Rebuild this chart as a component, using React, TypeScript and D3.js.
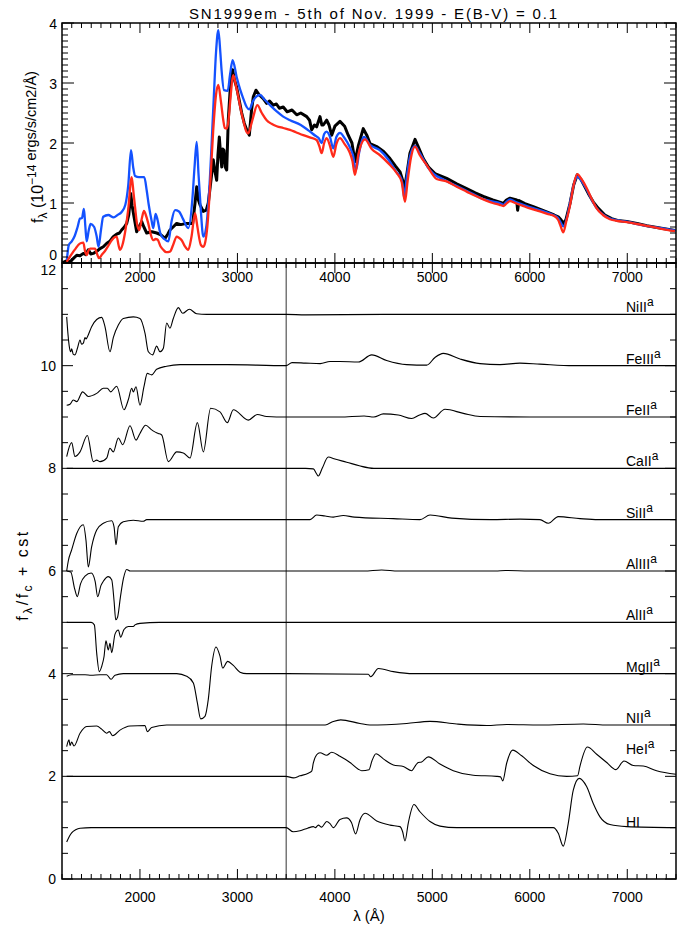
import React from "react";
import * as d3 from "d3";

type P = [number, number];

// ---------- layout ----------
const W = 686, H = 927;
const X0 = 62, X1 = 676;
const TOP_Y0 = 23, TOP_Y1 = 263;
const BOT_Y0 = 263, BOT_Y1 = 879;

// ---------- axes data ----------
const lambdaDomain: P = [1200, 7500];
const xMajorTicks = [2000, 3000, 4000, 5000, 6000, 7000];
const topYTicks = [0, 1, 2, 3, 4];
const botYTicks = [0, 2, 4, 6, 8, 10, 12];
const splitLambda = 3500;

const titleText = "SN1999em - 5th of Nov. 1999 - E(B-V) = 0.1";

// ---------- top panel: observed + two models ----------
const observed: P[] = [[1200,0.0],[1240,0.03],[1282,0.02],[1320,0.08],[1351,0.13],[1385,0.12],[1419,0.16],[1445,0.14],[1470,0.22],[1495,0.15],[1521,0.16],[1560,0.2],[1590,0.24],[1624,0.27],[1660,0.33],[1690,0.36],[1726,0.44],[1760,0.48],[1790,0.5],[1812,0.55],[1840,0.6],[1864,0.66],[1885,0.8],[1905,1.16],[1920,0.95],[1939,0.77],[1966,0.52],[1990,0.6],[2018,0.69],[2040,0.6],[2069,0.5],[2120,0.52],[2172,0.5],[2215,0.47],[2257,0.41],[2285,0.48],[2308,0.55],[2340,0.6],[2377,0.66],[2420,0.64],[2479,0.66],[2541,0.66],[2565,1.0],[2582,1.27],[2600,1.05],[2616,0.97],[2650,0.86],[2680,0.88],[2701,1.0],[2730,1.4],[2752,1.72],[2770,1.52],[2787,1.38],[2800,1.8],[2814,2.1],[2830,1.75],[2839,1.6],[2850,1.9],[2862,1.88],[2875,1.6],[2890,1.55],[2906,2.38],[2930,3.0],[2951,3.22],[2970,3.05],[2992,2.93],[3020,2.7],[3044,2.5],[3070,2.33],[3095,2.22],[3122,2.13],[3145,2.55],[3163,2.77],[3190,2.88],[3225,2.8],[3265,2.74],[3300,2.66],[3330,2.7],[3368,2.63],[3400,2.65],[3430,2.58],[3470,2.6],[3510,2.52],[3560,2.55],[3608,2.47],[3650,2.5],[3711,2.44],[3740,2.38],[3762,2.22],[3790,2.3],[3813,2.27],[3847,2.44],[3866,2.3],[3881,2.3],[3916,2.38],[3940,2.3],[3967,2.13],[4000,2.28],[4052,2.36],[4100,2.28],[4137,2.13],[4175,2.0],[4206,1.69],[4240,1.95],[4291,2.24],[4330,2.12],[4360,1.99],[4429,1.94],[4500,1.86],[4565,1.74],[4620,1.62],[4668,1.52],[4695,1.38],[4712,1.22],[4740,1.5],[4770,1.83],[4822,2.06],[4860,1.92],[4907,1.74],[4960,1.6],[5027,1.49],[5147,1.41],[5250,1.32],[5352,1.24],[5440,1.17],[5523,1.11],[5620,1.05],[5700,1.01],[5728,0.99],[5760,1.05],[5797,1.08],[5865,1.05],[5875,0.88],[5889,1.04],[5950,0.99],[6036,0.94],[6173,0.85],[6250,0.8],[6292,0.77],[6320,0.72],[6343,0.66],[6370,0.72],[6412,0.99],[6450,1.3],[6487,1.47],[6530,1.38],[6600,1.16],[6650,1.02],[6703,0.91],[6770,0.8],[6840,0.74],[6900,0.71],[6994,0.69],[7100,0.66],[7200,0.62],[7350,0.58],[7490,0.54]];

const modelBlue: P[] = [[1250,0.05],[1270,0.3],[1300,0.36],[1330,0.45],[1360,0.6],[1385,0.74],[1405,0.75],[1425,0.9],[1440,0.6],[1453,0.36],[1475,0.55],[1494,0.65],[1530,0.6],[1555,0.45],[1575,0.27],[1600,0.55],[1623,0.77],[1675,0.8],[1730,0.76],[1770,0.8],[1812,0.85],[1850,0.97],[1880,1.3],[1908,1.88],[1930,1.6],[1950,1.45],[1990,1.43],[2044,1.43],[2070,1.2],[2090,0.97],[2120,0.7],[2137,0.58],[2160,0.82],[2180,0.72],[2210,0.49],[2250,0.4],[2291,0.36],[2325,0.7],[2360,0.88],[2400,0.86],[2440,0.74],[2496,0.58],[2537,1.05],[2560,1.6],[2582,2.02],[2600,1.5],[2622,0.94],[2650,0.44],[2680,0.6],[2710,1.2],[2755,2.67],[2780,3.5],[2804,3.88],[2825,3.5],[2838,3.2],[2862,2.88],[2900,2.87],[2925,3.15],[2951,3.38],[2992,3.1],[3030,2.88],[3060,2.74],[3095,2.6],[3122,2.56],[3160,2.7],[3200,2.78],[3232,2.8],[3280,2.72],[3335,2.63],[3400,2.53],[3470,2.44],[3540,2.38],[3650,2.3],[3745,2.19],[3800,2.12],[3835,2.08],[3864,2.0],[3890,2.15],[3915,2.19],[3950,2.1],[3983,1.91],[4015,2.1],[4052,2.17],[4100,2.08],[4150,1.94],[4185,1.8],[4217,1.55],[4250,1.85],[4299,2.1],[4360,1.97],[4460,1.88],[4550,1.72],[4630,1.52],[4680,1.41],[4700,1.25],[4712,1.08],[4735,1.4],[4770,1.77],[4822,1.95],[4860,1.86],[4910,1.72],[4960,1.58],[5010,1.49],[5130,1.38],[5230,1.3],[5330,1.22],[5420,1.15],[5500,1.08],[5600,1.03],[5690,1.0],[5728,0.97],[5760,1.02],[5797,1.06],[5850,1.02],[5915,0.98],[6000,0.93],[6100,0.88],[6180,0.84],[6240,0.8],[6290,0.75],[6315,0.68],[6344,0.61],[6380,0.75],[6412,1.0],[6450,1.3],[6488,1.44],[6530,1.37],[6585,1.22],[6640,1.04],[6688,0.91],[6750,0.81],[6825,0.74],[6900,0.71],[6995,0.69],[7100,0.65],[7200,0.62],[7350,0.58],[7500,0.54]];

const modelRed: P[] = [[1248,0.02],[1280,0.1],[1316,0.19],[1340,0.24],[1367,0.3],[1390,0.33],[1419,0.34],[1436,0.2],[1453,0.13],[1470,0.2],[1487,0.24],[1539,0.24],[1560,0.15],[1580,0.08],[1610,0.14],[1641,0.2],[1680,0.3],[1710,0.38],[1740,0.43],[1761,0.44],[1780,0.3],[1795,0.22],[1820,0.3],[1846,0.5],[1880,0.9],[1915,1.43],[1935,1.15],[1949,0.94],[1970,0.65],[1993,0.55],[2020,0.75],[2041,0.87],[2060,0.8],[2085,0.66],[2110,0.48],[2137,0.38],[2160,0.4],[2180,0.39],[2210,0.28],[2239,0.22],[2270,0.18],[2308,0.19],[2340,0.3],[2377,0.44],[2400,0.42],[2428,0.38],[2460,0.28],[2496,0.22],[2530,0.45],[2565,0.83],[2585,0.65],[2599,0.5],[2625,0.3],[2650,0.27],[2670,0.35],[2691,0.6],[2720,1.3],[2752,2.22],[2780,2.8],[2804,2.97],[2830,2.7],[2855,2.38],[2870,2.25],[2890,2.24],[2910,2.4],[2924,2.66],[2958,3.13],[2985,2.95],[3009,2.77],[3035,2.55],[3060,2.38],[3085,2.22],[3111,2.16],[3140,2.3],[3163,2.44],[3204,2.63],[3250,2.5],[3300,2.38],[3350,2.32],[3403,2.28],[3470,2.25],[3539,2.22],[3600,2.18],[3676,2.13],[3750,2.09],[3813,2.05],[3840,1.95],[3864,1.83],[3890,2.0],[3916,2.08],[3950,1.95],[3984,1.77],[4015,1.98],[4052,2.08],[4100,1.98],[4150,1.85],[4180,1.7],[4206,1.47],[4240,1.8],[4309,2.06],[4378,1.9],[4460,1.8],[4550,1.66],[4634,1.5],[4685,1.35],[4719,1.02],[4745,1.35],[4780,1.75],[4822,1.94],[4870,1.8],[4942,1.63],[5044,1.4],[5147,1.36],[5250,1.27],[5352,1.19],[5440,1.12],[5523,1.06],[5620,1.0],[5690,0.97],[5728,0.95],[5760,0.99],[5797,1.03],[5850,1.0],[5917,0.96],[6000,0.91],[6104,0.86],[6180,0.82],[6241,0.79],[6290,0.72],[6315,0.62],[6343,0.51],[6375,0.7],[6412,0.96],[6450,1.3],[6487,1.48],[6530,1.4],[6583,1.25],[6640,1.05],[6686,0.91],[6750,0.8],[6822,0.73],[6900,0.7],[6994,0.68],[7100,0.65],[7199,0.62],[7350,0.57],[7490,0.53]];

// ---------- bottom panel: individual ion contributions (f/fc + cst) ----------
const ionNiII: P[] = [[1248,10.95],[1262,10.6],[1275,10.37],[1289,10.27],[1299,10.33],[1316,10.22],[1333,10.21],[1360,10.35],[1385,10.5],[1400,10.42],[1419,10.44],[1436,10.55],[1446,10.52],[1460,10.56],[1504,10.76],[1556,10.9],[1607,10.94],[1641,10.76],[1692,10.27],[1727,10.55],[1778,10.79],[1829,10.92],[1932,10.95],[2000,10.92],[2052,10.63],[2086,10.27],[2130,10.21],[2171,10.38],[2205,10.27],[2240,10.34],[2274,10.83],[2308,10.73],[2342,10.92],[2394,11.13],[2438,11.02],[2507,11.1],[2582,11.01],[2684,11.0],[3500,11.0],[3700,10.99],[4500,11.0],[7500,11.0]];
const ionFeIII: P[] = [[1248,9.23],[1282,9.25],[1316,9.33],[1351,9.3],[1412,9.49],[1470,9.4],[1556,9.46],[1624,9.56],[1665,9.56],[1699,9.49],[1761,9.6],[1836,9.14],[1881,9.34],[1915,9.56],[1932,9.49],[1959,9.59],[2000,9.23],[2041,9.59],[2075,9.85],[2120,9.82],[2171,9.93],[2274,9.99],[2411,10.02],[2900,10.02],[3500,10.0],[3560,10.06],[3700,10.05],[3850,10.04],[3950,10.08],[4052,10.08],[4240,10.07],[4378,10.21],[4531,10.1],[4737,10.02],[4942,10.01],[5027,10.16],[5112,10.24],[5284,10.13],[5489,10.04],[5694,10.02],[5899,10.05],[6104,10.03],[6446,10.0],[7500,10.0]];
const ionFeII: P[] = [[1248,8.23],[1299,8.5],[1333,8.23],[1385,8.32],[1460,8.64],[1521,8.13],[1556,8.16],[1590,8.13],[1658,8.2],[1692,8.39],[1727,8.32],[1778,8.59],[1823,8.46],[1898,8.83],[1959,8.55],[2000,8.68],[2058,8.84],[2120,8.75],[2144,8.72],[2188,8.68],[2223,8.65],[2291,8.13],[2377,8.32],[2445,8.3],[2513,8.2],[2589,8.89],[2650,8.32],[2725,9.17],[2821,9.1],[2896,8.89],[2958,9.14],[3112,8.94],[3204,9.05],[3300,9.01],[3500,9.0],[3800,9.0],[4052,9.0],[4300,9.02],[4400,9.0],[4497,9.06],[4650,9.04],[4788,8.97],[4870,9.04],[4925,9.07],[5010,8.98],[5130,9.15],[5318,9.07],[5489,9.01],[6000,9.0],[7500,9.0]];
const ionCaII: P[] = [[1248,8.0],[3500,8.0],[3700,8.0],[3779,7.99],[3810,7.9],[3830,7.85],[3870,8.0],[3932,8.22],[4000,8.18],[4121,8.12],[4250,8.05],[4400,8.0],[7500,8.0]];
const ionSiII: P[] = [[1248,6.0],[1265,6.2],[1299,6.41],[1351,6.73],[1419,6.9],[1446,6.6],[1470,6.08],[1504,6.47],[1556,6.8],[1624,6.93],[1710,6.98],[1734,6.86],[1754,6.51],[1778,6.86],[1829,6.96],[1932,6.99],[2034,6.97],[2069,7.0],[3500,7.0],[3745,7.0],[3813,7.09],[3900,7.07],[3984,7.05],[4086,7.08],[4200,7.05],[4600,7.02],[4873,7.0],[4976,7.09],[5200,7.03],[5600,7.0],[5900,7.01],[6104,7.0],[6190,6.93],[6292,7.06],[6515,7.02],[6700,7.0],[7500,7.0]];
const ionAlIII: P[] = [[1248,6.0],[1290,5.98],[1330,5.65],[1357,5.5],[1390,5.75],[1436,5.9],[1500,5.96],[1540,5.8],[1566,5.5],[1600,5.72],[1624,5.8],[1675,5.89],[1710,5.83],[1735,5.4],[1751,5.05],[1770,5.1],[1800,5.5],[1830,5.85],[1864,6.03],[1900,6.0],[3500,6.0],[4300,6.0],[4480,6.02],[4650,6.0],[5650,6.0],[5750,6.01],[6000,6.0],[7500,6.0]];
const ionAlII: P[] = [[1248,5.0],[1500,5.0],[1532,4.95],[1556,4.4],[1583,4.04],[1607,4.14],[1631,4.33],[1651,4.64],[1675,4.46],[1692,4.59],[1710,4.41],[1744,4.77],[1778,4.85],[1802,4.71],[1836,4.86],[1881,4.92],[1932,4.92],[1949,4.95],[2000,4.98],[2200,5.0],[7500,5.0]];
const ionMgII: P[] = [[1248,3.95],[1299,3.98],[1436,3.98],[1500,3.97],[1590,3.98],[1658,3.98],[1703,3.89],[1744,3.97],[1829,4.0],[2377,4.0],[2479,3.95],[2548,3.82],[2589,3.43],[2623,3.12],[2667,3.17],[2701,3.5],[2736,4.15],[2780,4.52],[2821,4.34],[2849,4.11],[2900,4.24],[2958,4.16],[3026,4.03],[3095,4.0],[3500,4.0],[4343,3.99],[4367,3.94],[4446,4.1],[4600,4.04],[4805,4.0],[7500,4.0]];
const ionNII: P[] = [[1248,2.58],[1272,2.71],[1282,2.6],[1299,2.67],[1323,2.59],[1385,2.84],[1453,2.97],[1556,2.98],[1607,2.92],[1658,2.84],[1686,2.87],[1720,2.79],[1795,2.9],[1898,2.98],[2052,2.99],[2075,2.87],[2120,2.95],[2274,3.0],[3500,3.0],[3800,3.0],[3900,3.0],[3984,3.07],[4060,3.1],[4257,3.03],[4360,3.0],[4737,3.03],[4976,3.07],[5250,3.02],[5558,2.99],[5763,3.01],[6104,3.0],[6549,3.02],[6800,3.0],[7500,3.0]];
const ionHeI: P[] = [[1248,2.0],[3500,2.0],[3573,1.97],[3642,2.01],[3727,2.06],[3762,2.1],[3779,2.26],[3813,2.42],[3847,2.46],[3916,2.41],[3967,2.47],[4052,2.39],[4155,2.27],[4240,2.14],[4275,2.11],[4350,2.13],[4380,2.3],[4422,2.44],[4497,2.34],[4600,2.22],[4703,2.19],[4788,2.11],[4830,2.22],[4856,2.27],[4890,2.28],[4958,2.38],[5078,2.24],[5215,2.11],[5420,2.02],[5660,2.0],[5700,1.99],[5722,1.91],[5763,2.26],[5825,2.51],[5917,2.4],[6036,2.21],[6207,2.05],[6378,2.0],[6490,2.01],[6515,2.2],[6590,2.57],[6686,2.43],[6789,2.27],[6884,2.13],[6966,2.3],[7062,2.21],[7164,2.2],[7301,2.11],[7500,2.04]];
const ionHI: P[] = [[1248,0.72],[1275,0.83],[1299,0.9],[1340,0.96],[1385,0.99],[1500,1.0],[3500,1.0],[3573,0.92],[3642,0.94],[3720,0.99],[3779,1.02],[3800,1.0],[3830,1.05],[3864,1.01],[3916,1.12],[3950,1.08],[3984,1.0],[4052,1.16],[4120,1.19],[4170,1.1],[4213,0.88],[4257,1.15],[4309,1.28],[4429,1.13],[4565,1.05],[4668,1.02],[4695,0.92],[4719,0.74],[4753,1.09],[4811,1.45],[4873,1.31],[4976,1.12],[5078,1.03],[5250,1.0],[6241,1.0],[6292,0.89],[6343,0.64],[6395,1.09],[6446,1.73],[6507,1.96],[6583,1.8],[6651,1.47],[6720,1.21],[6822,1.06],[6994,1.02],[7500,1.0]];

const ionNames = ["NiII", "FeIII", "FeII", "CaII", "SiII", "AlIII", "AlII", "MgII", "NII", "HeI", "HI"];
const ionSup = ["a", "a", "a", "a", "a", "a", "a", "a", "a", "a", ""];
const ionLabelLevel = [11.04, 10.04, 9.04, 8.04, 7.04, 6.04, 5.04, 4.04, 3.04, 2.43, 1.02];
const ionSeries = [ionNiII, ionFeIII, ionFeII, ionCaII, ionSiII, ionAlIII, ionAlII, ionMgII, ionNII, ionHeI, ionHI];

const FONT = "'Liberation Sans', Arial, sans-serif";

export default function App() {
  const x = d3.scaleLinear().domain(lambdaDomain).range([X0, X1]);
  const yTop = d3.scaleLinear().domain([0, 4]).range([TOP_Y1, TOP_Y0]);
  const yBot = d3.scaleLinear().domain([0, 12]).range([BOT_Y1, BOT_Y0]);

  const lineTop = d3.line<P>().x(d => x(d[0])).y(d => yTop(d[1])).curve(d3.curveMonotoneX);
  const lineTopObs = d3.line<P>().x(d => x(d[0])).y(d => yTop(d[1])).curve(d3.curveLinear);
  const lineBot = d3.line<P>().x(d => x(d[0])).y(d => yBot(d[1])).curve(d3.curveMonotoneX);

  const xMinor = d3.range(lambdaDomain[0], lambdaDomain[1] + 1, 100);
  const topYMinor = d3.range(0, 4.001, 0.1);
  const botYMinor = d3.range(0, 12.001, 0.5);

  const isMajorX = (v: number) => v % 1000 === 0;
  const tickStroke = "#000";
  const sw = 1;

  const xTicks = (yAxis: number, dir: number, key: string) =>
    xMinor.map((v, i) => {
      const len = isMajorX(v) ? 10 : 5;
      return <line key={key + i} x1={x(v)} x2={x(v)} y1={yAxis} y2={yAxis + dir * len} stroke={tickStroke} strokeWidth={sw} />;
    });

  return (
    <svg width={W} height={H} style={{ position: "absolute", left: 0, top: 0, background: "#fff" }} fontFamily={FONT}>
      <rect x={0} y={0} width={W} height={H} fill="#fff" />
      <defs>
        <clipPath id="clipTop"><rect x={X0} y={TOP_Y0} width={X1 - X0} height={TOP_Y1 - TOP_Y0} /></clipPath>
        <clipPath id="clipBot"><rect x={X0} y={BOT_Y0} width={X1 - X0} height={BOT_Y1 - BOT_Y0} /></clipPath>
      </defs>

      {/* title */}
      <text x={(X0 + X1) / 2 + 4} y={19} textAnchor="middle" fontSize={15} fill="#000" textLength={368} lengthAdjust="spacing">{titleText}</text>

      {/* ---------- top panel ---------- */}
      <g clipPath="url(#clipTop)">
        <path d={lineTopObs(observed) || ""} fill="none" stroke="#000" strokeWidth={3} strokeLinejoin="round" />
        <path d={lineTop(modelBlue) || ""} fill="none" stroke="#1452ff" strokeWidth={2.3} strokeLinejoin="round" />
        <path d={lineTop(modelRed) || ""} fill="none" stroke="#ff2a1a" strokeWidth={2.3} strokeLinejoin="round" />
      </g>
      {xTicks(TOP_Y1, -1, "tb")}
      {xTicks(TOP_Y0, 1, "tt")}
      {topYMinor.map((v, i) => {
        const major = Math.abs(v - Math.round(v)) < 1e-6;
        const len = major ? 12 : 6;
        return (
          <g key={"ty" + i}>
            <line x1={X0} x2={X0 + len} y1={yTop(v)} y2={yTop(v)} stroke={tickStroke} strokeWidth={sw} />
            <line x1={X1} x2={X1 - len} y1={yTop(v)} y2={yTop(v)} stroke={tickStroke} strokeWidth={sw} />
          </g>
        );
      })}
      {topYTicks.map(v => (
        <text key={"tyl" + v} x={57} y={v === 0 ? yTop(v) - 3 : yTop(v) + 6} textAnchor="end" fontSize={14}>{v}</text>
      ))}
      {xMajorTicks.map(v => (
        <text key={"txl" + v} x={x(v)} y={282} textAnchor="middle" fontSize={14}>{v}</text>
      ))}
      <rect x={X0} y={TOP_Y0} width={X1 - X0} height={TOP_Y1 - TOP_Y0} fill="none" stroke="#000" strokeWidth={1.5} />
      <text transform={`translate(43,${(TOP_Y0 + TOP_Y1) / 2 + 4}) rotate(-90)`} textAnchor="middle" fontSize={16}>
        f<tspan dy={4} fontSize={12}>λ</tspan><tspan dy={-4}> (10</tspan><tspan dy={-7} fontSize={12}>−14</tspan><tspan fontSize={14.5}> ergs/s/cm2/Å)</tspan>
      </text>

      {/* ---------- bottom panel ---------- */}
      <g clipPath="url(#clipBot)">
        <line x1={x(splitLambda)} x2={x(splitLambda)} y1={BOT_Y0} y2={BOT_Y1} stroke="#333" strokeWidth={1} />
        {ionSeries.map((s, i) => (
          <path key={"ion" + i} d={lineBot(s) || ""} fill="none" stroke="#000" strokeWidth={1.1} strokeLinejoin="round" />
        ))}
      </g>
      {ionNames.map((n, i) => (
        <text key={"il" + i} x={626} y={yBot(ionLabelLevel[i])} fontSize={14} fill="#000">
          {n}
          {ionSup[i] ? <tspan dy={-6} fontSize={12}>{ionSup[i]}</tspan> : null}
        </text>
      ))}
      {xTicks(BOT_Y0, 1, "bt")}
      {xTicks(BOT_Y1, -1, "bb")}
      {botYMinor.map((v, i) => {
        const major = Math.abs(v / 2 - Math.round(v / 2)) < 1e-6;
        const len = major ? 11 : 6;
        return (
          <g key={"by" + i}>
            <line x1={X0} x2={X0 + len} y1={yBot(v)} y2={yBot(v)} stroke={tickStroke} strokeWidth={sw} />
            <line x1={X1} x2={X1 - len} y1={yBot(v)} y2={yBot(v)} stroke={tickStroke} strokeWidth={sw} />
          </g>
        );
      })}
      {botYTicks.map(v => (
        <text key={"byl" + v} x={56} y={v === 12 ? yBot(v) + 12 : yBot(v) + 5} textAnchor="end" fontSize={14}>{v}</text>
      ))}
      {xMajorTicks.map(v => (
        <text key={"bxl" + v} x={x(v)} y={902} textAnchor="middle" fontSize={14}>{v}</text>
      ))}
      <rect x={X0} y={BOT_Y0} width={X1 - X0} height={BOT_Y1 - BOT_Y0} fill="none" stroke="#000" strokeWidth={1.5} />
      <text transform={`translate(28,${(BOT_Y0 + BOT_Y1) / 2 + 4}) rotate(-90)`} textAnchor="middle" fontSize={16} letterSpacing={2.5}>
        f<tspan dy={4} fontSize={12}>λ</tspan><tspan dy={-4}>/f</tspan><tspan dy={4} fontSize={12}>c</tspan><tspan dy={-4}> + cst</tspan>
      </text>
      <text x={(X0 + X1) / 2} y={921} textAnchor="middle" fontSize={15}>λ (Å)</text>
    </svg>
  );
}
